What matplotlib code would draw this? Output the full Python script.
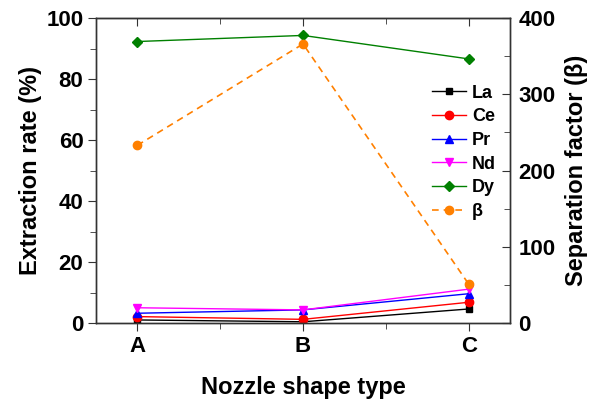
import matplotlib.pyplot as plt
from matplotlib.ticker import MultipleLocator
import numpy as np

plt.rcParams['font.family'] = ['Liberation Sans', 'DejaVu Sans']
plt.rcParams['font.weight'] = 'bold'

# data
types = ['A', 'B', 'C']
la = [1.0, 0.4, 4.6]
ce = [2.1, 1.2, 6.8]
pr = [3.2, 4.3, 9.6]
nd = [5.0, 4.3, 11.1]
dy = [92.3, 94.3, 86.6]
beta = [233, 366, 51]

x = np.arange(len(types))

fig = plt.figure(figsize=(6.03, 4.01), dpi=100)
ax = fig.add_axes([0.159, 0.1945, 0.687, 0.7605])
ax2 = ax.twinx()

lw = 1.0
ms = 5
h1, = ax.plot(x, la, color='black', marker='s', lw=lw, ms=ms, label='La')
h2, = ax.plot(x, ce, color='red', marker='o', lw=lw, ms=ms + 1, label='Ce')
h3, = ax.plot(x, pr, color='blue', marker='^', lw=lw, ms=ms + 1, label='Pr')
h4, = ax.plot(x, nd, color='magenta', marker='v', lw=lw, ms=ms + 1, label='Nd')
h5, = ax.plot(x, dy, color='green', marker='D', lw=lw, ms=ms, label='Dy')
h6, = ax2.plot(x, beta, color='#ff8000', marker='o', lw=lw + 0.2, ms=ms + 1,
               ls=(0, (4, 3)), label='β')

ax.set_xlim(-0.25, 2.25)
ax.set_ylim(0, 100)
ax2.set_ylim(0, 400)

ax.set_xticks(x)
ax.set_xticklabels(types)
ax.xaxis.set_minor_locator(MultipleLocator(0.5))
ax.yaxis.set_major_locator(MultipleLocator(20))
ax.yaxis.set_minor_locator(MultipleLocator(10))
ax2.yaxis.set_major_locator(MultipleLocator(100))
ax2.yaxis.set_minor_locator(MultipleLocator(50))

sc = '#333333'
for a in (ax, ax2):
    for s in a.spines.values():
        s.set_color(sc)
        s.set_linewidth(1.0)

ax.tick_params(axis='x', which='both', direction='out', bottom=True, top=False,
               color=sc, labelsize=16, pad=3)
ax.tick_params(axis='x', which='major', length=6)
ax.tick_params(axis='x', which='minor', length=4)
ax.tick_params(axis='y', which='both', direction='out', color=sc, labelsize=16, pad=3)
ax.tick_params(axis='y', which='major', length=6)
ax.tick_params(axis='y', which='minor', length=4)
ax2.tick_params(axis='y', which='both', direction='in', color=sc, labelsize=16, pad=6)
ax2.tick_params(axis='y', which='major', length=6)
ax2.tick_params(axis='y', which='minor', length=4)

# ticks on top edge pointing inwards
top = ax.secondary_xaxis('top')
top.set_xticks(x)
top.xaxis.set_minor_locator(MultipleLocator(0.5))
top.tick_params(axis='x', which='both', direction='in', labeltop=False, color=sc)
top.tick_params(axis='x', which='major', length=6)
top.tick_params(axis='x', which='minor', length=4)
top.spines['top'].set_color(sc)

ax.set_xlabel('Nozzle shape type', fontsize=17, fontweight='bold', labelpad=14)
ax.set_ylabel('Extraction rate (%)', fontsize=17, fontweight='bold', labelpad=3)
ax2.set_ylabel('Separation factor (β)', fontsize=17, fontweight='bold', labelpad=7)

ax.legend(handles=[h1, h2, h3, h4, h5, h6], loc='upper left',
          bbox_to_anchor=(0.795, 0.805), frameon=False, fontsize=13,
          handlelength=1.85, handletextpad=0.35, labelspacing=0.37,
          borderaxespad=0)

fig.savefig('out.png', dpi=100)
